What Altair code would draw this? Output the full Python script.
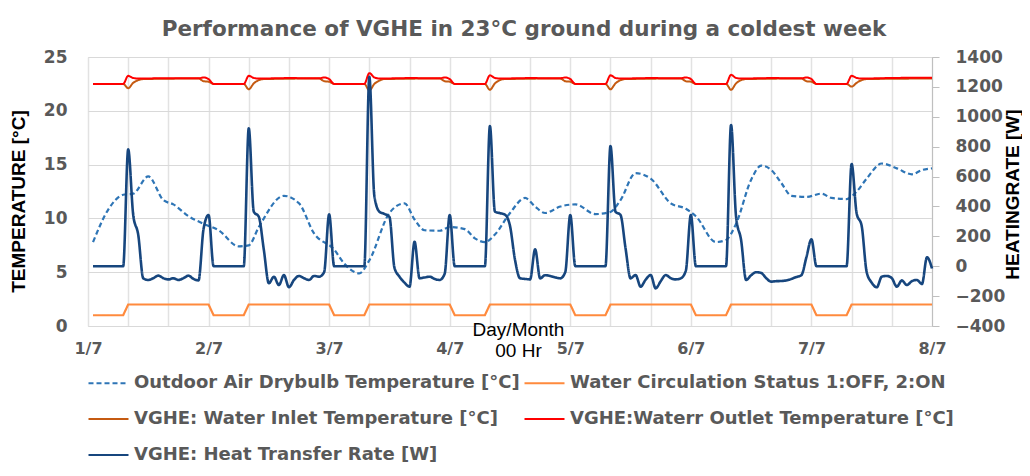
import json
import altair as alt
import pandas as pd

TITLE = "Performance of VGHE in 23°C ground during a coldest week"
SERIES = [
    "Outdoor Air Drybulb Temperature [°C]",
    "Water Circulation Status 1:OFF, 2:ON",
    "VGHE: Water Inlet Temperature [°C]",
    "VGHE:Waterr Outlet Temperature [°C]",
    "VGHE: Heat Transfer Rate [W]",
]
COLORS = ["#2E75B6", "#FF8A3D", "#C55A11", "#FF0000", "#17467E"]
DASHES = [[5, 3], [1, 0], [1, 0], [1, 0], [1, 0]]
DAY_LABELS = ["1/7", "2/7", "3/7", "4/7", "5/7", "6/7", "7/7", "8/7"]
TEMP_TICKS = [0, 5, 10, 15, 20, 25]
HEAT_TICKS = [-400, -200, 0, 200, 400, 600, 800, 1000, 1200, 1400]
HOUR_TICKS = list(range(0, 169, 8))

outdoor_h = [1, 4, 7, 9, 12, 15, 17, 20, 23, 26, 30, 32, 34, 39, 42, 45, 49, 51, 54, 56,
             60, 63, 65, 67, 70, 72, 75, 77, 79, 81, 84, 87, 89, 91, 94, 97, 101, 104, 106, 109,
             112, 116, 119, 121, 125, 127, 129, 132, 134, 136, 138, 140, 143, 146, 148, 151, 153, 155, 158, 161,
             164, 166, 168]
outdoor_t = [7.8, 10.8, 12.2, 12.3, 13.9, 11.7, 11.3, 10.2, 9.5, 8.9, 7.4, 7.5, 9.2, 12.1, 11.4, 8.6, 7.1, 5.8, 4.9, 6.1,
             10.5, 11.4, 9.9, 8.9, 8.85, 9.2, 9.0, 8.15, 7.8, 8.5, 10.5, 11.9, 11.1, 10.5, 11.1, 11.3, 10.4, 10.6, 11.7, 14.2,
             13.7, 11.4, 10.9, 10.2, 7.8, 8.0, 9.5, 13.6, 14.9, 14.5, 13.3, 12.1, 12.0, 12.3, 11.9, 11.8, 12.5, 13.7, 15.1, 14.65,
             14.1, 14.5, 14.65]

status_h = [1, 7, 8, 24, 25, 31, 32, 48, 49, 55, 56, 72, 73, 79, 80, 96, 97, 103, 104, 120, 121, 127, 128, 144, 145, 151, 152, 168]
status_v = [1, 1, 2, 2, 1, 1, 2, 2, 1, 1, 2, 2, 1, 1, 2, 2, 1, 1, 2, 2, 1, 1, 2, 2, 1, 1, 2, 2]

inlet_h = [1, 7, 8, 9, 10, 11, 22, 23, 24, 25,
           31, 32, 33, 34, 35, 46, 47, 48, 49,
           55, 56, 57, 58, 59, 70, 71, 72, 73,
           79, 80, 81, 82, 83, 94, 95, 96, 97,
           103, 104, 105, 106, 107, 118, 119, 120, 121,
           127, 128, 129, 130, 131, 142, 143, 144, 145,
           151, 152, 153, 154, 155, 168]
inlet_t = [22.5, 22.5, 22.1, 22.6, 22.85, 22.95, 23.0, 22.75, 22.7, 22.5,
           22.5, 22.0, 22.55, 22.85, 22.95, 23.0, 22.75, 22.7, 22.5,
           22.5, 21.9, 22.5, 22.8, 22.95, 23.0, 22.75, 22.7, 22.5,
           22.5, 21.95, 22.55, 22.85, 22.95, 23.0, 22.75, 22.7, 22.5,
           22.5, 22.0, 22.55, 22.85, 22.95, 23.0, 22.75, 22.7, 22.5,
           22.5, 21.95, 22.55, 22.85, 22.95, 23.0, 22.75, 22.7, 22.5,
           22.5, 22.25, 22.6, 22.85, 22.95, 23.0]

outlet_h = [1, 7, 8, 9, 10, 16, 22, 23, 24, 25,
            31, 32, 33, 34, 40, 46, 47, 48, 49,
            55, 56, 57, 58, 64, 70, 71, 72, 73,
            79, 80, 81, 82, 88, 94, 95, 96, 97,
            103, 104, 105, 106, 112, 118, 119, 120, 121,
            127, 128, 129, 130, 136, 142, 143, 144, 145,
            151, 152, 153, 154, 160, 168]
outlet_t = [22.5, 22.5, 23.25, 23.05, 23.0, 23.03, 23.02, 23.1, 22.95, 22.5,
            22.5, 23.25, 23.05, 23.0, 23.04, 23.02, 23.1, 22.95, 22.5,
            22.5, 23.5, 23.1, 23.0, 23.04, 23.02, 23.1, 22.95, 22.5,
            22.5, 23.3, 23.05, 23.0, 23.04, 23.02, 23.1, 22.95, 22.5,
            22.5, 23.3, 23.05, 23.0, 23.04, 23.02, 23.1, 22.95, 22.5,
            22.5, 23.35, 23.05, 23.0, 23.04, 23.02, 23.1, 22.95, 22.5,
            22.5, 23.25, 23.05, 23.0, 23.05, 23.08]

heat_h = [1, 7, 8, 9, 10, 11, 12, 13, 14, 15, 16, 17, 18, 19, 20, 21, 22, 23, 24, 25,
          31, 32, 33, 34, 35, 36, 37, 38, 39, 40, 41, 42, 43, 44, 45, 46, 47, 48, 49,
          55, 56, 57, 58, 59, 60, 61, 62, 63, 64, 65, 66, 67, 68, 69, 70, 71, 72, 73,
          79, 80, 81, 82, 83, 84, 85, 86, 87, 88, 89, 90, 91, 92, 93, 94, 95, 96, 97,
          103, 104, 105, 106, 107, 108, 109, 110, 111, 112, 113, 114, 115, 116, 117, 118, 119, 120, 121,
          127, 128, 129, 130, 131, 132, 133, 134, 135, 136, 137, 138, 139, 140, 141, 142, 143, 144, 145,
          151, 152, 153, 154, 155, 156, 157, 158, 159, 160, 161, 162, 163, 164, 165, 166, 167, 168]
heat_w = [0, 0, 782, 343, 210, -81, -92, -80, -63, -80, -88, -81, -92, -80, -63, -85, -95, 250, 343, 0,
          0, 923, 365, 331, 110, -114, -70, -126, -59, -141, -92, -65, -80, -92, -65, -70, -40, 347, 0,
          0, 1268, 470, 365, 350, 330, -10, -70, -110, -137, 164, -81, -75, -70, -85, -92, -50, 343, 0,
          0, 938, 365, 355, 345, 270, 42, -81, -85, -88, 113, -81, -60, -65, -75, -81, -40, 343, 0,
          0, 804, 365, 343, 120, -81, -59, -137, -90, -59, -148, -100, -59, -80, -88, -81, -30, 343, 0,
          0, 945, 331, 175, -92, -60, -40, -45, -80, -103, -100, -99, -95, -85, -72, -60, 60, 180, 0,
          0, 684, 354, 270, -40, -110, -141, -70, -65, -80, -137, -95, -126, -100, -92, -119, 60, -15]


def frame(name, hours, values):
    return pd.DataFrame({"series": name, "hour": hours, "value": values})


df_out = frame(SERIES[0], outdoor_h, outdoor_t)
df_status = frame(SERIES[1], status_h, status_v)
df_in = frame(SERIES[2], inlet_h, inlet_t)
df_outl = frame(SERIES[3], outlet_h, outlet_t)
df_heat = frame(SERIES[4], heat_h, heat_w)

GRAY = "#595959"
FONT = "DejaVu Sans"
TFONT = "Liberation Sans"

legend = alt.Legend(
    title=None, orient="none", legendX=-1, legendY=304.5, columns=2, direction="horizontal",
    symbolType="stroke", symbolSize=1600, symbolStrokeWidth=2.2,
    labelFont=FONT, labelFontSize=18, labelFontWeight="bold", labelColor=GRAY,
    labelLimit=0, rowPadding=5, columnPadding=0, labelOffset=4, padding=0,
)
color_enc = alt.Color("series:N", scale=alt.Scale(domain=SERIES, range=COLORS), legend=legend)
dash_enc = alt.StrokeDash("series:N", scale=alt.Scale(domain=SERIES, range=DASHES), legend=legend)

label_expr = "datum.value % 24 == 0 ? " + json.dumps(DAY_LABELS) + "[datum.value / 24] : ''"
x_axis = alt.Axis(
    values=HOUR_TICKS, labelExpr=label_expr, grid=True, gridColor="#E2E2E2", gridWidth=1.5,
    ticks=False, domain=False, labelPadding=14, labelFont=FONT, labelFontSize=16,
    labelFontWeight="bold", labelColor=GRAY, labelFlush=False,
    title=["Day/Month", "00 Hr"], titleFont=TFONT, titleFontSize=19, titleFontWeight="normal",
    titleColor="black", titleX=430, titleY=-6, titleBaseline="top", titleLineHeight=21,
    titleAlign="center",
)
x_enc = alt.X("hour:Q", scale=alt.Scale(domain=[0, 168], nice=False, zero=False), axis=x_axis)

left_axis = alt.Axis(
    values=TEMP_TICKS, format="d", grid=True, gridColor="#D9D9D9", gridWidth=1, domain=False, ticks=False,
    labelPadding=21, labelFont=FONT, labelFontSize=17, labelFontWeight="bold", labelColor=GRAY,
    title="TEMPERATURE [°C]", titleFont=TFONT, titleFontSize=19, titleFontWeight="bold",
    titleColor="black", titleAngle=270, titleX=-70, titleY=144, titleBaseline="middle",
    titleAlign="center",
)
y_temp = alt.Y("value:Q", scale=alt.Scale(domain=[0, 25], nice=False, zero=False), axis=left_axis)

right_axis = alt.Axis(
    orient="right", values=HEAT_TICKS, format="d", grid=False, domain=True, domainColor="#BFBFBF",
    ticks=True, tickColor="#BFBFBF", tickSize=7, labelPadding=16,
    labelFont=FONT, labelFontSize=17, labelFontWeight="bold", labelColor=GRAY,
    title="HEATINGRATE  [W]", titleFont=TFONT, titleFontSize=19, titleFontWeight="bold",
    titleColor="black", titleAngle=270, titleX=80, titleY=137, titleBaseline="middle",
    titleAlign="center",
)
y_heat = alt.Y("value:Q", scale=alt.Scale(domain=[-400, 1400], nice=False, zero=False), axis=right_axis)


def temp_layer(df, interp, width=2.2):
    return alt.Chart(df).mark_line(interpolate=interp, strokeWidth=width).encode(
        x=x_enc, y=y_temp, color=color_enc, strokeDash=dash_enc
    )


temps = alt.layer(
    temp_layer(df_out, "monotone", 2.2),
    temp_layer(df_status, "linear", 2.2),
    temp_layer(df_in, "monotone", 2.0),
    temp_layer(df_outl, "monotone", 2.0),
)
heat = alt.Chart(df_heat).mark_line(interpolate="monotone", strokeWidth=2.6).encode(
    x=x_enc, y=y_heat, color=color_enc, strokeDash=dash_enc
)

chart = alt.layer(temps, heat).resolve_scale(y="independent").properties(
    width=844, height=269,
    title=alt.TitleParams(
        text=TITLE, font=FONT, fontSize=21.5, fontWeight="bold", color=GRAY,
        anchor="middle", frame="group", dx=14, dy=31, baseline="alphabetic", offset=22,
    ),
    autosize=alt.AutoSizeParams(type="none"),
    padding={"left": 80, "top": 49, "right": 90, "bottom": 142},
).configure_view(stroke="#C8C8C8", strokeWidth=1).configure(background="white")

chart.save("out.html", embed_options={"renderer": "svg", "actions": False})
